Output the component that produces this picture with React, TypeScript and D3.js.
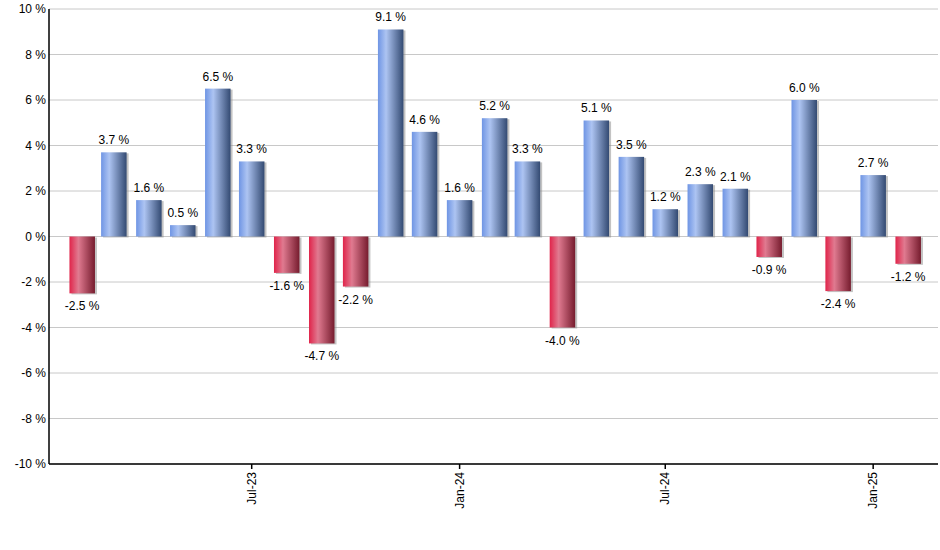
import React from "react";
import * as d3 from "d3";

const months: string[] = [
  "2023-02", "2023-03", "2023-04", "2023-05", "2023-06", "2023-07", "2023-08",
  "2023-09", "2023-10", "2023-11", "2023-12", "2024-01", "2024-02", "2024-03",
  "2024-04", "2024-05", "2024-06", "2024-07", "2024-08", "2024-09", "2024-10",
  "2024-11", "2024-12", "2025-01", "2025-02",
];
const values: number[] = [
  -2.5, 3.7, 1.6, 0.5, 6.5, 3.3, -1.6, -4.7, -2.2, 9.1, 4.6, 1.6, 5.2, 3.3,
  -4.0, 5.1, 3.5, 1.2, 2.3, 2.1, -0.9, 6.0, -2.4, 2.7, -1.2,
];
const yTicks: number[] = [-10, -8, -6, -4, -2, 0, 2, 4, 6, 8, 10];
const xTickDates: string[] = ["2023-07-01", "2024-01-01", "2024-07-01", "2025-01-01"];

const W = 940;
const H = 550;
const left = 49;
const right = 938;
const top = 9;
const bottom = 464;

export default function App() {
  const parseM = d3.timeParse("%Y-%m");
  const parseD = d3.timeParse("%Y-%m-%d");
  const x = d3
    .scaleTime()
    .domain([parseD("2023-07-01")!, parseD("2025-02-01")!])
    .range([251.7, 908.2]);
  const y = d3.scaleLinear().domain([-10, 10]).range([bottom, top]);
  const fmtTick = d3.timeFormat("%b-%y");
  const barW = 25.5;
  const font = "'Liberation Sans', Arial, sans-serif";

  return (
    <svg
      width={W}
      height={H}
      style={{ position: "absolute", left: 0, top: 0, background: "#fff" }}
      fontFamily={font}
    >
      <defs>
        <linearGradient id="gPos" x1="0" x2="1" y1="0" y2="0">
          <stop offset="0" stopColor="#6f95e4" />
          <stop offset="0.32" stopColor="#adc4f2" />
          <stop offset="1" stopColor="#334a72" />
        </linearGradient>
        <linearGradient id="gNeg" x1="0" x2="1" y1="0" y2="0">
          <stop offset="0" stopColor="#e0244a" />
          <stop offset="0.35" stopColor="#e07a90" />
          <stop offset="1" stopColor="#761c2e" />
        </linearGradient>
      </defs>
      {yTicks.map((t) => (
        <g key={t}>
          <line x1={left} x2={right} y1={y(t)} y2={y(t)} stroke="#c8c8c8" strokeWidth={1} />
          <text x={46} y={y(t) + 4} fontSize={12} textAnchor="end" fill="#000">
            {`${t} %`}
          </text>
        </g>
      ))}
      {values.map((v, i) => {
        const cx = x(parseM(months[i])!);
        const y0 = y(0);
        const y1 = y(v);
        const ry = Math.min(y0, y1);
        const rh = Math.abs(y1 - y0);
        return (
          <g key={months[i]}>
            <rect x={cx - barW / 2 + 2} y={ry + 1} width={barW} height={rh} fill="#888" opacity={0.5} />
            <rect x={cx - barW / 2} y={ry} width={barW} height={rh} fill={v >= 0 ? "url(#gPos)" : "url(#gNeg)"} />
            <text
              x={cx}
              y={v >= 0 ? y1 - 8 : y1 + 17}
              fontSize={12}
              textAnchor="middle"
              fill="#000"
            >
              {`${v.toFixed(1)} %`}
            </text>
          </g>
        );
      })}
      <line x1={left} x2={left} y1={top} y2={bottom} stroke="#000" strokeWidth={1.5} />
      <line x1={left} x2={right} y1={bottom} y2={bottom} stroke="#000" strokeWidth={1.5} />
      {xTickDates.map((d) => {
        const px = x(parseD(d)!);
        return (
          <g key={d}>
            <line x1={px} x2={px} y1={bottom} y2={bottom + 5} stroke="#000" strokeWidth={1.5} />
            <text
              transform={`translate(${px + 4},${bottom + 8}) rotate(-90)`}
              fontSize={12}
              textAnchor="end"
              fill="#000"
            >
              {fmtTick(parseD(d)!)}
            </text>
          </g>
        );
      })}
    </svg>
  );
}
